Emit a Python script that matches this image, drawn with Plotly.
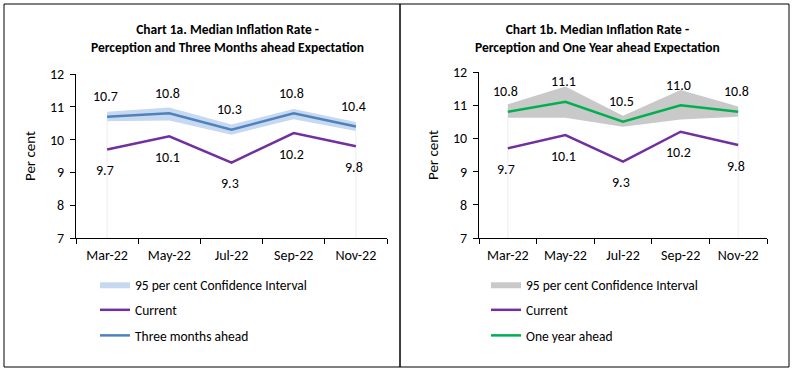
import plotly.graph_objects as go

months = ["Mar-22", "May-22", "Jul-22", "Sep-22", "Nov-22"]
current = [9.7, 10.1, 9.3, 10.2, 9.8]
three_months = [10.7, 10.8, 10.3, 10.8, 10.4]
three_lo = [10.56, 10.58, 10.15, 10.62, 10.26]
three_hi = [10.85, 10.98, 10.46, 10.93, 10.54]
one_year = [10.8, 11.1, 10.5, 11.0, 10.8]
one_lo = [10.62, 10.62, 10.35, 10.57, 10.65]
one_hi = [11.03, 11.56, 10.68, 11.46, 10.96]

FONT = "Carlito, Calibri, 'Liberation Sans', Arial, sans-serif"
PURPLE = "#7030a0"
BLUE = "#4f81bd"
GREEN = "#00b050"
LBLUE = "#c6d9f0"
GREY = "#c9c9c9"

fig = go.Figure()


def add_panel(xa, ya, legend, lo, hi, band_col, ahead, ahead_col, ahead_name):
    fig.add_trace(go.Scatter(
        x=months, y=lo, mode="lines", line=dict(width=0, color=band_col),
        showlegend=False, hoverinfo="skip", xaxis=xa, yaxis=ya))
    fig.add_trace(go.Scatter(
        x=months, y=hi, mode="lines", line=dict(width=0, color=band_col),
        fill="tonexty", fillcolor=band_col,
        name="95 per cent Confidence Interval", legend=legend, legendgroup=legend + "a",
        xaxis=xa, yaxis=ya))
    # faint edge lines of the area band
    fig.add_trace(go.Scatter(
        x=[months[0], months[0], None, months[-1], months[-1]],
        y=[7, lo[0], None, 7, lo[-1]],
        mode="lines", line=dict(color="#ececf4", width=1),
        showlegend=False, hoverinfo="skip", xaxis=xa, yaxis=ya))
    fig.add_trace(go.Scatter(
        x=months, y=current, mode="lines", line=dict(color=PURPLE, width=2.5),
        name="Current", legend=legend, legendgroup=legend + "b", xaxis=xa, yaxis=ya))
    fig.add_trace(go.Scatter(
        x=months, y=ahead, mode="lines", line=dict(color=ahead_col, width=2.5),
        name=ahead_name, legend=legend, legendgroup=legend + "c", xaxis=xa, yaxis=ya))
    for m, v in zip(months, ahead):
        fig.add_annotation(x=m, y=v, xref=xa, yref=ya, text=f"{v:.1f}", showarrow=False,
                           yshift=20, xshift=-2, font=dict(size=14, color="#000", family=FONT))
    for m, v in zip(months, current):
        fig.add_annotation(x=m, y=v, xref=xa, yref=ya, text=f"{v:.1f}", showarrow=False,
                           yshift=-21, xshift=-2, font=dict(size=14, color="#000", family=FONT))


add_panel("x", "y", "legend", three_lo, three_hi, LBLUE, three_months, BLUE, "Three months ahead")
add_panel("x2", "y2", "legend2", one_lo, one_hi, GREY, one_year, GREEN, "One year ahead")

axis_x = dict(type="category", categoryorder="array", categoryarray=months,
              showline=True, linecolor="#000", linewidth=1, automargin=False,
              ticks="outside", tickson="boundaries", ticklen=5, tickcolor="#000",
              showgrid=False, zeroline=False, range=[-0.5, 4.5], ticklabelstandoff=4,
              tickfont=dict(size=14, family=FONT, color="#000"))
axis_y = dict(range=[7, 12], dtick=1, showline=True, linecolor="#000", linewidth=1,
              ticks="outside", ticklen=5, tickcolor="#000", showgrid=False, zeroline=False,
              ticklabelstandoff=3, automargin=False,
              tickfont=dict(size=14, family=FONT, color="#000"),
              title=dict(text="Per cent", font=dict(size=15, family=FONT, color="#000"), standoff=10))

legend_common = dict(font=dict(size=13.5, family=FONT, color="#000"), bgcolor="rgba(0,0,0,0)",
                     xanchor="left", yanchor="top", tracegroupgap=5, itemwidth=30,
                     traceorder="grouped")

fig.update_layout(
    width=792, height=371, autosize=False,
    margin=dict(l=0, r=0, t=0, b=0, pad=0, autoexpand=False),
    paper_bgcolor="white", plot_bgcolor="white",
    font=dict(family=FONT, color="#000"),
    xaxis=dict(axis_x, domain=[76 / 792, 387 / 792], anchor="y"),
    yaxis=dict(axis_y, domain=[133 / 371, 297 / 371], anchor="x"),
    xaxis2=dict(axis_x, domain=[479 / 792, 767 / 792], anchor="y2"),
    yaxis2=dict(axis_y, domain=[133 / 371, 299 / 371], anchor="x2"),
    legend=dict(legend_common, x=95 / 792, y=1 - 269 / 371),
    legend2=dict(legend_common, x=486 / 792, y=1 - 269 / 371),
    shapes=[
        dict(type="rect", xref="paper", yref="paper", x0=4 / 792, x1=400 / 792,
             y0=1 - 367 / 371, y1=1 - 4 / 371, line=dict(color="#000", width=1)),
        dict(type="rect", xref="paper", yref="paper", x0=400 / 792, x1=789 / 792,
             y0=1 - 367 / 371, y1=1 - 4 / 371, line=dict(color="#000", width=1)),
    ],
)

fig.add_annotation(xref="paper", yref="paper", x=227 / 792, y=1 - 38 / 371,
                   xanchor="center", yanchor="middle",
                   text="<b>Chart 1a. Median Inflation Rate -<br>Perception and Three Months ahead Expectation</b>",
                   showarrow=False, font=dict(size=13.5, family=FONT, color="#000"), align="center")
fig.add_annotation(xref="paper", yref="paper", x=597 / 792, y=1 - 38 / 371,
                   xanchor="center", yanchor="middle",
                   text="<b>Chart 1b. Median Inflation Rate -<br>Perception and One Year ahead Expectation</b>",
                   showarrow=False, font=dict(size=13.5, family=FONT, color="#000"), align="center")

fig.write_html(
    "out.html",
    config={"displayModeBar": False},
    post_script=(
        "document.documentElement.style.margin='0';"
        "document.body.style.margin='0';document.body.style.overflow='hidden';"
        "var d=document.getElementById('{plot_id}');"
        "d.style.position='absolute';d.style.top='0';d.style.left='0';"
    ),
)
